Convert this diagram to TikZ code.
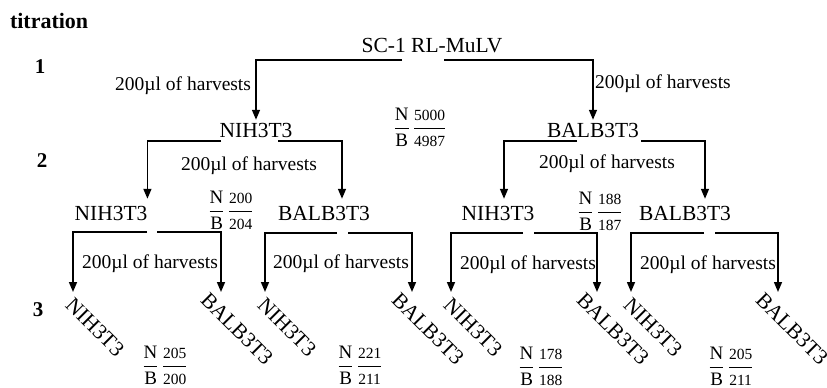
\documentclass[tikz,border=0pt]{standalone}
\usepackage{amsmath}
\usepackage{unicode-math}
\setmainfont{Liberation Serif}
\usetikzlibrary{arrows.meta,calc}
\newcommand\numsz{\fontsize{15.5}{15.5}\selectfont}
\newcommand\nbfrac[2]{\(\dfrac{\text{N}}{\text{B}}\,\dfrac{\text{\numsz #1}}{\text{\numsz #2}}\)}
\begin{document}
\begin{tikzpicture}[x=1pt,y=-1pt,
  every node/.style={inner sep=0pt,outer sep=0pt},
  cell/.style={font=\fontsize{21.5}{21.5}\selectfont},
  lab/.style={font=\fontsize{19.5}{19.5}\selectfont},
  lvl/.style={font=\fontsize{21}{21}\selectfont\bfseries},
  fracnode/.style={font=\fontsize{19}{19}\selectfont},
  leaf/.style={cell,rotate=-45},
  arr/.style={line width=1.5pt,-{Triangle[length=10pt,width=8pt]}}]
\useasboundingbox (0,0) rectangle (827,388);
\fill[white] (0,0) rectangle (827,388);

% level markers
\node[lvl,anchor=base west,font=\fontsize{22}{22}\selectfont\bfseries] (title) at (10,28) {titration};
\node[lvl,anchor=base] (n1) at (40,73) {1};
\node[lvl,anchor=base] (n2) at (42,167) {2};
\node[lvl,anchor=base] (n3) at (38,316) {3};

% cells
\node[cell,anchor=base] (root) at (432,52) {SC-1 RL-MuLV};
\node[cell,anchor=base] (a) at (256,137) {NIH3T3};
\node[cell,anchor=base] (b) at (593,137) {BALB3T3};
\node[cell,anchor=base] (aa) at (111,220) {NIH3T3};
\node[cell,anchor=base] (ab) at (324,220) {BALB3T3};
\node[cell,anchor=base] (ba) at (498,220) {NIH3T3};
\node[cell,anchor=base] (bb) at (685,220) {BALB3T3};

% leaves
\node[leaf] (aaa) at (95,327) {NIH3T3};
\node[leaf] (aab) at (237,329) {BALB3T3};
\node[leaf] (aba) at (287,327) {NIH3T3};
\node[leaf] (abb) at (428,329) {BALB3T3};
\node[leaf] (baa) at (473,327) {NIH3T3};
\node[leaf] (bab) at (613,329) {BALB3T3};
\node[leaf] (bba) at (653,327) {NIH3T3};
\node[leaf] (bbb) at (792,329) {BALB3T3};

% split bars (gap ends)
\coordinate (rootL) at (402,60); \coordinate (rootR) at (444,60);
\coordinate (aL) at (221,141);   \coordinate (aR) at (278,141);
\coordinate (bL) at (577,141);   \coordinate (bR) at (641,141);
\coordinate (aaL) at (147,232);  \coordinate (aaR) at (157,232);
\coordinate (abL) at (337,233);  \coordinate (abR) at (348,233);
\coordinate (baL) at (523,233);  \coordinate (baR) at (534,233);
\coordinate (bbL) at (704,233);  \coordinate (bbR) at (715,233);

% level 1 arrows
\draw[arr,shorten >=3pt] (rootL) -| (a.north);
\draw[arr,shorten >=3pt] (rootR) -| (b.north);
% level 2 arrows
\draw[arr,shorten >=7pt] (aL) -| (aa.north east);
\draw[arr,shorten >=7pt] (aR) -| ([xshift=18pt]ab.north);
\draw[arr,shorten >=7pt] (bL) -| ([xshift=6pt]ba.north);
\draw[arr,shorten >=7pt] (bR) -| ([xshift=20pt]bb.north);
% level 3 arrows
\draw[arr] (aaL) -| ([shift={(-22,-35)}]aaa.center);
\draw[arr] (aaR) -| ([shift={(-16,-37)}]aab.center);
\draw[arr] (abL) -| ([shift={(-22,-35)}]aba.center);
\draw[arr] (abR) -| ([shift={(-16,-37)}]abb.center);
\draw[arr] (baL) -| ([shift={(-22,-35)}]baa.center);
\draw[arr] (baR) -| ([shift={(-16,-37)}]bab.center);
\draw[arr] (bbL) -| ([shift={(-22,-35)}]bba.center);
\draw[arr] (bbR) -| ([shift={(-14,-37)}]bbb.center);

% labels
\node[lab,anchor=base east] (l1a) at (251,90) {200µl of harvests};
\node[lab,anchor=base west] (l1b) at (595,88) {200µl of harvests};
\node[lab,anchor=base] (l2a) at (249,170) {200µl of harvests};
\node[lab,anchor=base] (l2b) at (607,168) {200µl of harvests};
\node[lab,anchor=base] (l3aa) at (150,268) {200µl of harvests};
\node[lab,anchor=base] (l3ab) at (341,268) {200µl of harvests};
\node[lab,anchor=base] (l3ba) at (528,269) {200µl of harvests};
\node[lab,anchor=base] (l3bb) at (708,269) {200µl of harvests};

% fractions
\node[fracnode] (f0) at (420,127) {\nbfrac{5000}{4987}};
\node[fracnode] (f1) at (231,210) {\nbfrac{200}{204}};
\node[fracnode] (f2) at (600,211) {\nbfrac{188}{187}};
\node[fracnode] (f3) at (165,365) {\nbfrac{205}{200}};
\node[fracnode] (f4) at (360,365) {\nbfrac{221}{211}};
\node[fracnode] (f5) at (541,366) {\nbfrac{178}{188}};
\node[fracnode] (f6) at (731,366) {\nbfrac{205}{211}};
\end{tikzpicture}
\end{document}
